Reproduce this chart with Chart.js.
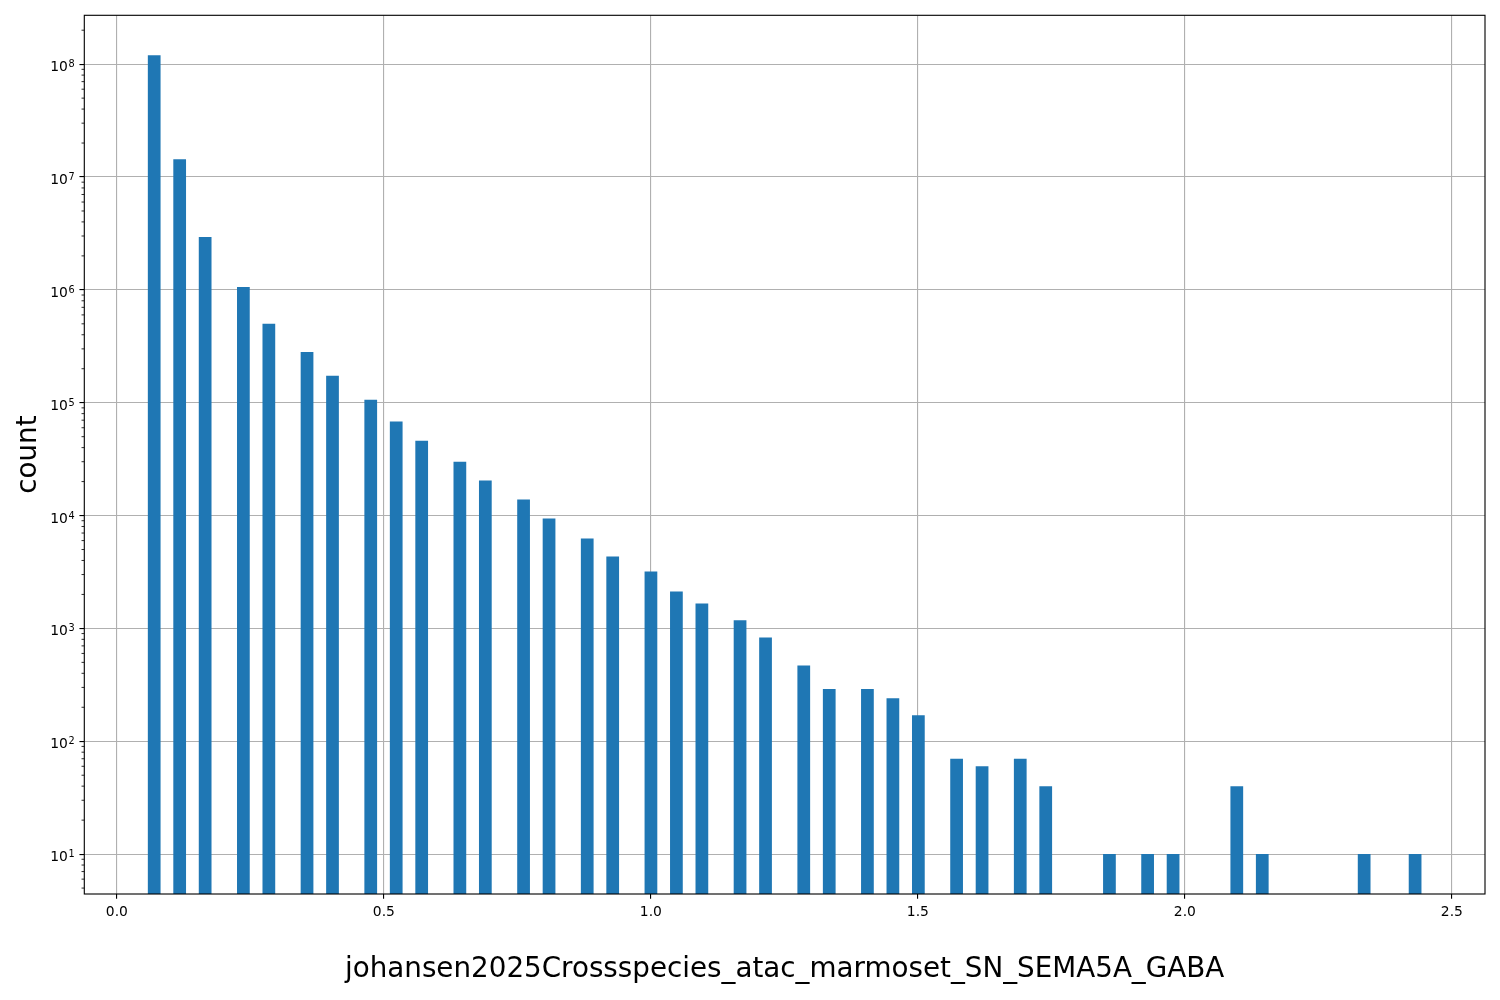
<!DOCTYPE html>
<html lang="en">
<head>
    <meta charset="UTF-8">
    <title>count histogram</title>
    <script src="https://cdn.jsdelivr.net/npm/chart.js"></script>
    <style>
        html, body { margin: 0; padding: 0; background: #fff; }
        .wrap { width: 1500px; height: 1000px; position: relative; }
    </style>
</head>
<body>
    <div class="wrap"><canvas id="hist"></canvas></div>

    <script>
        // bin centres (x) and counts
        const binCenters = [0.0699, 0.1176, 0.1653, 0.2369, 0.2846, 0.3561, 0.4038, 0.4754, 0.5231, 0.5708,
            0.6423, 0.6900, 0.7616, 0.8093, 0.8808, 0.9285, 1.0001, 1.0478, 1.0955, 1.1670,
            1.2147, 1.2863, 1.3340, 1.4055, 1.4532, 1.5009, 1.5725, 1.6202, 1.6917, 1.7394,
            1.8587, 1.9302, 1.9779, 2.0972, 2.1449, 2.3357, 2.4311];
        const counts = [1.2e8, 1.44e7, 2.94e6, 1.06e6, 5.0e5, 2.82e5, 1.73e5, 1.06e5, 6.8e4, 4.6e4,
            3.0e4, 2.04e4, 1.39e4, 9.4e3, 6.25e3, 4.33e3, 3.19e3, 2.12e3, 1.66e3, 1.18e3,
            830, 470, 290, 290, 240, 170, 70, 60, 70, 40,
            10, 10, 10, 40, 10, 10, 10];

        const xTicks = [0.0, 0.5, 1.0, 1.5, 2.0, 2.5];
        const xTickLabels = ['0.0', '0.5', '1.0', '1.5', '2.0', '2.5'];
        const yTicks = [1e1, 1e2, 1e3, 1e4, 1e5, 1e6, 1e7, 1e8];
        const yTickExponents = ['1', '2', '3', '4', '5', '6', '7', '8'];
        const xLabel = 'johansen2025Crossspecies_atac_marmoset_SN_SEMA5A_GABA';
        const yLabel = 'count';

        const FONT = 'DejaVu Sans';
        const PT = 100 / 72;

        // minor ticks on the log axis: 2..9 x 10^n inside the range
        function minorTicks(min, max) {
            const out = [];
            for (let e = 0; e <= 8; e++) {
                for (let m = 2; m <= 9; m++) {
                    const v = m * Math.pow(10, e);
                    if (v >= min && v <= max) out.push(v);
                }
            }
            return out;
        }

        const frame = {
            id: 'frame',
            afterDraw(chart) {
                const ctx = chart.ctx;
                const a = chart.chartArea;
                const ys = chart.scales.y;
                ctx.save();
                ctx.strokeStyle = '#000';
                ctx.lineWidth = 0.6 * PT;
                minorTicks(ys.min, ys.max).forEach(v => {
                    const py = ys.getPixelForValue(v);
                    ctx.beginPath();
                    ctx.moveTo(a.left - 2 * PT, py);
                    ctx.lineTo(a.left, py);
                    ctx.stroke();
                });
                ctx.lineWidth = 0.8 * PT;
                ctx.strokeRect(a.left, a.top, a.right - a.left, a.bottom - a.top);

                // y tick labels as 10 with a raised exponent
                ctx.fillStyle = '#000';
                ctx.textAlign = 'right';
                ctx.textBaseline = 'alphabetic';
                const right = a.left - 7 * PT;
                yTicks.forEach((v, i) => {
                    const py = ys.getPixelForValue(v);
                    ctx.font = (7 * PT) + 'px "' + FONT + '"';
                    const ew = ctx.measureText(yTickExponents[i]).width;
                    ctx.fillText(yTickExponents[i], right, py + 3);
                    ctx.font = (10 * PT) + 'px "' + FONT + '"';
                    ctx.fillText('10', right - ew - 0.5, py + 7);
                });
                ctx.restore();
            }
        };

        new Chart(document.getElementById('hist').getContext('2d'), {
            type: 'bar',
            data: {
                datasets: [{
                    data: binCenters.map((x, i) => ({ x: x, y: counts[i] })),
                    backgroundColor: '#1f77b4',
                    borderWidth: 0,
                    barPercentage: 0.5,
                    categoryPercentage: 1.0
                }]
            },
            plugins: [frame],
            options: {
                responsive: true,
                maintainAspectRatio: false,
                animation: false,
                layout: { padding: { top: 15.3, right: 15, left: 0, bottom: 0 } },
                plugins: { legend: { display: false }, tooltip: { enabled: false } },
                scales: {
                    x: {
                        type: 'linear',
                        min: -0.061,
                        max: 2.562,
                        bounds: 'data',
                        offset: false,
                        z: 1,
                        border: { display: false },
                        grid: { offset: false, color: '#b0b0b0', lineWidth: 0.8 * PT, tickColor: '#000', tickWidth: 0.8 * PT, tickLength: 3.5 * PT },
                        ticks: {
                            padding: 3.5 * PT, maxRotation: 0, autoSkip: false, color: '#000',
                            font: { family: FONT, size: 10 * PT },
                            callback: (v) => xTickLabels[xTicks.indexOf(v)]
                        },
                        afterBuildTicks: (s) => { s.ticks = xTicks.map(v => ({ value: v })); },
                        afterFit: (s) => { s.height = 106; },
                        title: {
                            display: true, text: xLabel, color: '#000',
                            font: { family: FONT, size: 20 * PT },
                            padding: { top: 0, bottom: 13.5 }
                        }
                    },
                    y: {
                        type: 'logarithmic',
                        min: 4.43,
                        max: 2.71e8,
                        bounds: 'data',
                        z: 1,
                        border: { display: false },
                        grid: { color: '#b0b0b0', lineWidth: 0.8 * PT, tickColor: '#000', tickWidth: 0.8 * PT, tickLength: 3.5 * PT },
                        ticks: {
                            padding: 3.5 * PT, autoSkip: false, color: '#000',
                            font: { family: FONT, size: 10 * PT },
                            callback: () => ''
                        },
                        afterBuildTicks: (s) => { s.ticks = yTicks.map(v => ({ value: v })); },
                        afterFit: (s) => { s.width = 84.3; },
                        title: {
                            display: true, text: yLabel, color: '#000',
                            font: { family: FONT, size: 20 * PT },
                            padding: { top: 12, bottom: 0 }
                        }
                    }
                }
            }
        });
    </script>
</body>
</html>
